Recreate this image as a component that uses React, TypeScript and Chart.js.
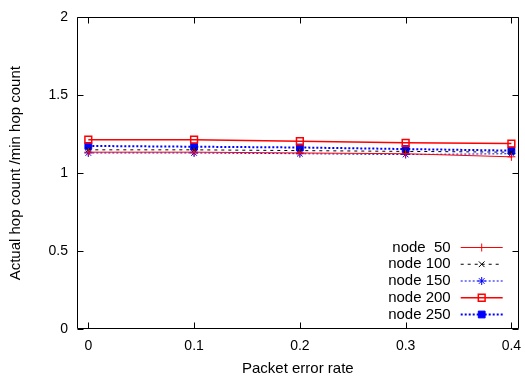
import React, { useEffect, useRef } from "react";
import { Chart, registerables } from "chart.js";
import { drawPoint } from "chart.js/helpers";

Chart.register(...registerables);

const xValues = [0, 0.1, 0.2, 0.3, 0.4];
const xTicks = [0, 0.1, 0.2, 0.3, 0.4];
const xTickLabels = ["0", "0.1", "0.2", "0.3", "0.4"];
const yTicks = [0, 0.5, 1, 1.5, 2];
const yTickLabels = ["0", "0.5", "1", "1.5", "2"];

const seriesNames = ["node  50", "node 100", "node 150", "node 200", "node 250"];
const node50 = [1.135, 1.135, 1.13, 1.125, 1.105];
const node100 = [1.15, 1.15, 1.145, 1.14, 1.135];
const node150 = [1.13, 1.13, 1.125, 1.12, 1.125];
const node200 = [1.215, 1.215, 1.205, 1.195, 1.19];
const node250 = [1.175, 1.17, 1.165, 1.155, 1.145];

const FONT = "'Liberation Sans', Arial, Helvetica, sans-serif";

const styles = [
  { color: "#ff0000", width: 1, dash: [], pointStyle: "cross", radius: 4, fill: "#ff0000", pbw: 1 },
  { color: "#000000", width: 1, dash: [3, 4], pointStyle: "crossRot", radius: 4, fill: "#000000", pbw: 1 },
  { color: "#0000ff", width: 1, dash: [2, 2], pointStyle: "star", radius: 4, fill: "#0000ff", pbw: 1 },
  { color: "#ff0000", width: 1.5, dash: [], pointStyle: "rect", radius: 4.8, fill: "rgba(0,0,0,0)", pbw: 1.5 },
  { color: "#0000ff", width: 2, dash: [2, 2], pointStyle: "rect", radius: 4.8, fill: "#0000ff", pbw: 1 },
];

const allSeries = [node50, node100, node150, node200, node250];

const frameAndLegend = {
  id: "frameAndLegend",
  afterDatasetsDraw(chart: any) {
    const { ctx, chartArea } = chart;
    const { left, right, top, bottom } = chartArea;
    const xs = chart.scales.x;
    const ys = chart.scales.y;
    ctx.save();
    ctx.strokeStyle = "#000";
    ctx.lineWidth = 1;
    ctx.setLineDash([]);
    const L = Math.round(left) + 0.5;
    const R = Math.round(right) - 0.5;
    const T = Math.round(top) + 0.5;
    const B = Math.round(bottom) - 0.5;
    ctx.beginPath();
    ctx.rect(L, T, R - L, B - T);
    ctx.stroke();
    const tl = 6;
    ctx.beginPath();
    xTicks.forEach((v) => {
      const px = Math.round(xs.getPixelForValue(v)) + 0.5;
      ctx.moveTo(px, B);
      ctx.lineTo(px, B - tl);
      ctx.moveTo(px, T);
      ctx.lineTo(px, T + tl);
    });
    yTicks.forEach((v) => {
      const py = Math.round(ys.getPixelForValue(v)) + 0.5;
      ctx.moveTo(L, py);
      ctx.lineTo(L + tl, py);
      ctx.moveTo(R, py);
      ctx.lineTo(R - tl, py);
    });
    ctx.stroke();

    // legend
    const n = seriesNames.length;
    ctx.font = `15px ${FONT}`;
    ctx.textAlign = "right";
    ctx.textBaseline = "middle";
    seriesNames.forEach((name, i) => {
      const st = styles[i];
      const y = bottom - 14.5 - (n - 1 - i) * 16.75;
      ctx.fillStyle = "#000";
      ctx.fillText(name, right - 68, y);
      ctx.save();
      ctx.strokeStyle = st.color;
      ctx.lineWidth = st.width;
      ctx.setLineDash(st.dash);
      ctx.beginPath();
      ctx.moveTo(right - 58, y);
      ctx.lineTo(right - 16, y);
      ctx.stroke();
      ctx.setLineDash([]);
      ctx.strokeStyle = st.color;
      ctx.fillStyle = st.fill;
      ctx.lineWidth = st.pbw;
      drawPoint(ctx, { pointStyle: st.pointStyle, radius: st.radius, rotation: 0, borderWidth: st.pbw }, right - 37, y);
      ctx.restore();
    });
    ctx.restore();
  },
};

export default function App() {
  const ref = useRef<HTMLCanvasElement | null>(null);
  useEffect(() => {
    if (!ref.current) return;
    const datasets = allSeries.map((vals, i) => {
      const st = styles[i];
      return {
        label: seriesNames[i],
        data: vals.map((v, j) => ({ x: xValues[j], y: v })),
        borderColor: st.color,
        borderWidth: st.width,
        borderDash: st.dash,
        backgroundColor: st.fill,
        pointStyle: st.pointStyle,
        pointRadius: st.radius,
        pointBorderColor: st.color,
        pointBackgroundColor: st.fill,
        pointBorderWidth: st.pbw,
        tension: 0,
        fill: false,
      };
    });
    const chart = new Chart(ref.current, {
      type: "line",
      data: { datasets },
      plugins: [frameAndLegend],
      options: {
        animation: false,
        responsive: false,
        maintainAspectRatio: false,
        layout: { padding: { top: 14, right: 0, bottom: 0, left: 0 } },
        plugins: { legend: { display: false }, tooltip: { enabled: false } },
        scales: {
          x: {
            type: "linear",
            min: -0.0107,
            max: 0.4069,
            afterBuildTicks: (s: any) => {
              s.ticks = xTicks.map((v) => ({ value: v }));
            },
            afterFit: (s: any) => {
              s.height = 49;
              s.paddingRight = 0;
              s.paddingLeft = 0;
            },
            grid: { display: false, drawTicks: false },
            border: { display: false },
            ticks: {
              color: "#000",
              padding: 9,
              maxRotation: 0,
              font: { family: FONT, size: 14 },
              callback: (_v: any, idx: number) => xTickLabels[idx],
            },
            title: {
              display: true,
              text: "Packet error rate",
              color: "#000",
              font: { family: FONT, size: 15 },
              padding: { top: 0, bottom: 0 },
            },
          },
          y: {
            type: "linear",
            min: 0,
            max: 2,
            afterBuildTicks: (s: any) => {
              s.ticks = yTicks.map((v) => ({ value: v }));
            },
            afterFit: (s: any) => {
              s.width = 77;
            },
            grid: { display: false, drawTicks: false },
            border: { display: false },
            ticks: {
              color: "#000",
              padding: 9,
              font: { family: FONT, size: 14 },
              callback: (_v: any, idx: number) => yTickLabels[idx],
            },
            title: {
              display: true,
              text: "Actual hop count /min hop count",
              color: "#000",
              font: { family: FONT, size: 15 },
              padding: { top: 7, bottom: 0 },
            },
          },
        },
      },
    });
    return () => chart.destroy();
  }, []);
  return (
    <div style={{ position: "absolute", left: 0, top: 0, width: 525, height: 378, background: "#fff" }}>
      <canvas ref={ref} width={525} height={378} style={{ display: "block" }} />
    </div>
  );
}
